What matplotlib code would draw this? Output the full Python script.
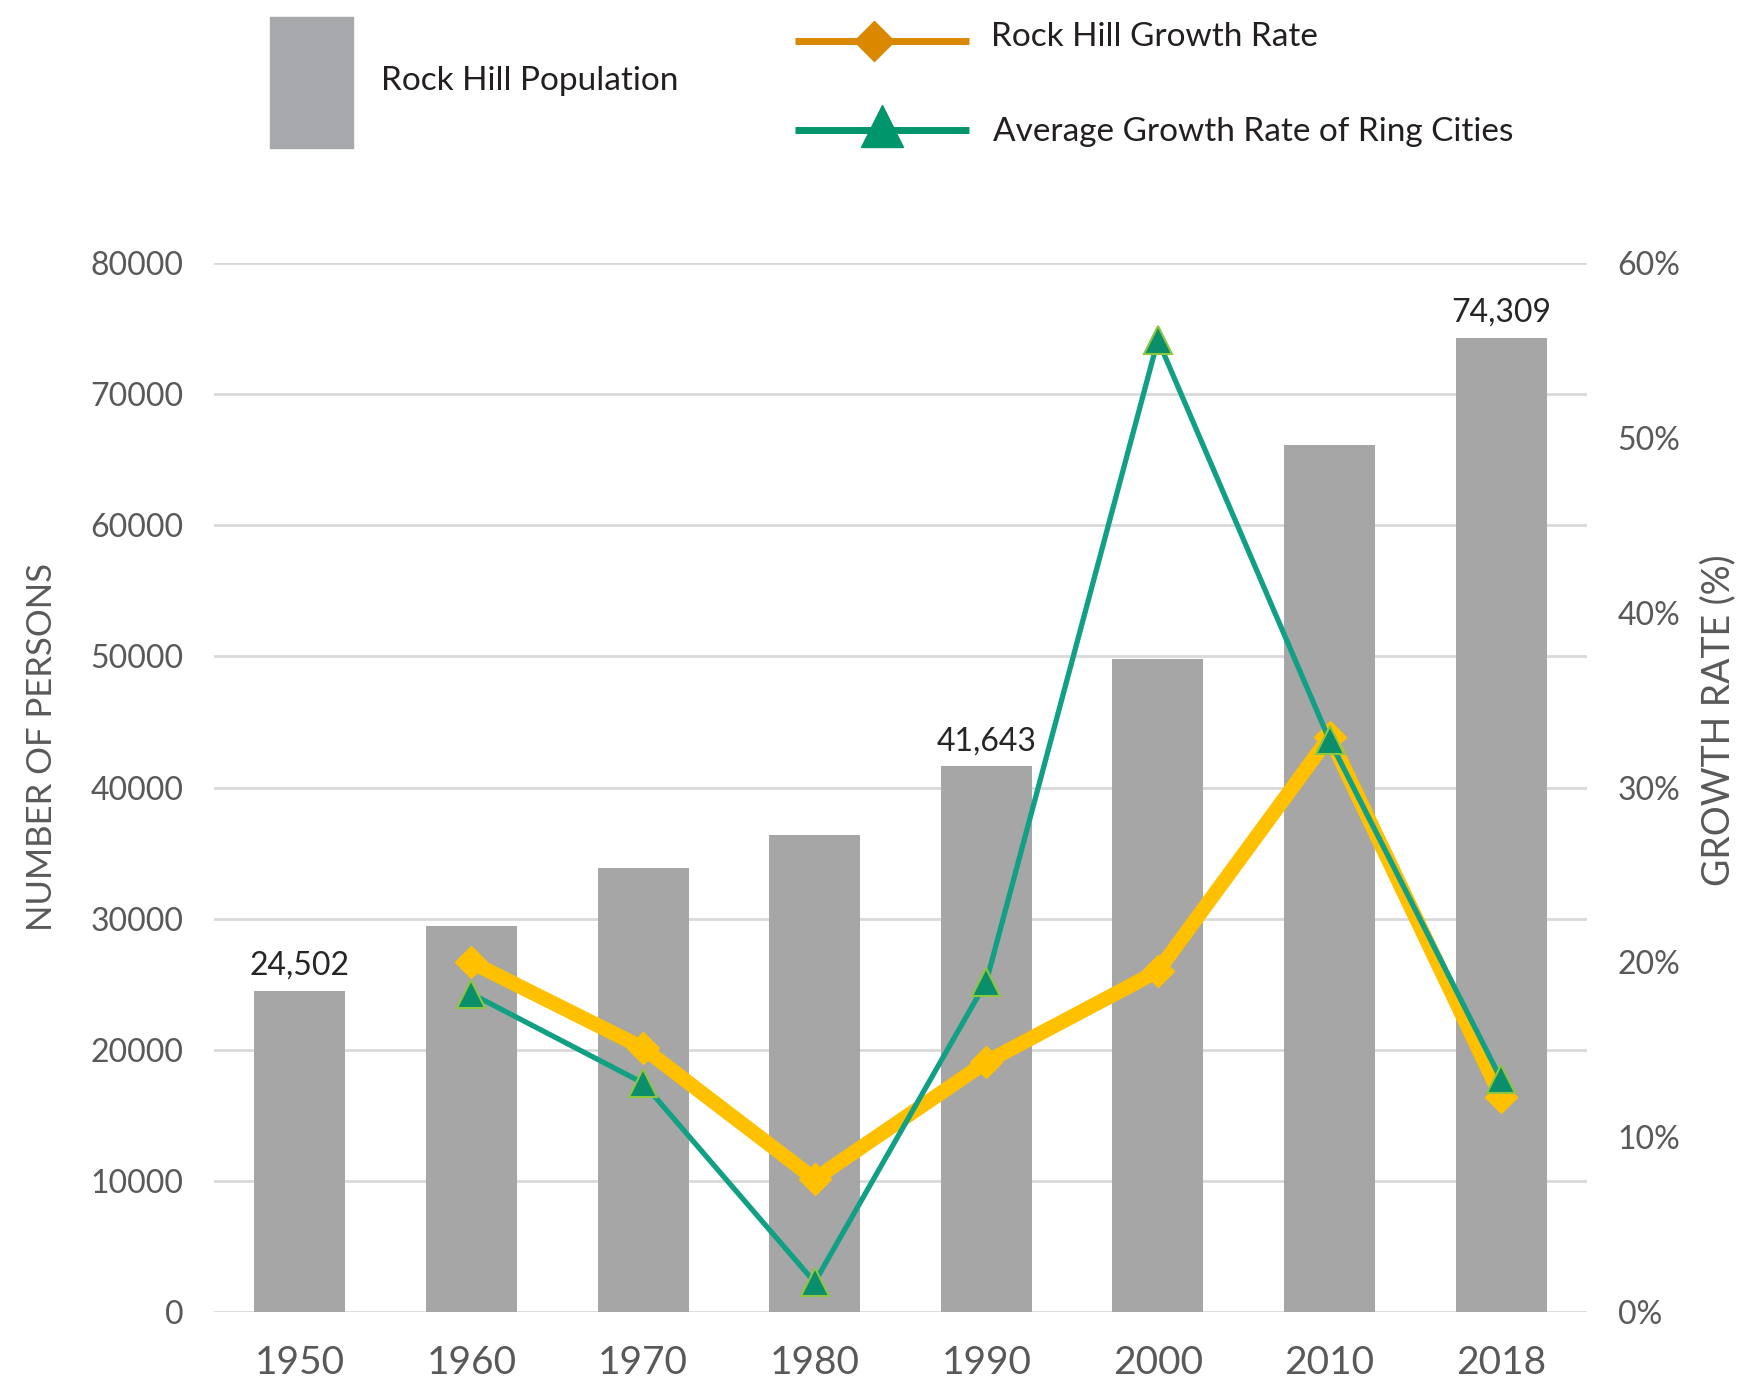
import matplotlib
matplotlib.use("Agg")
import matplotlib.pyplot as plt
from matplotlib.patches import Rectangle
import numpy as np

plt.rcParams["font.family"] = ["Lato", "DejaVu Sans"]

# ── data ────────────────────────────────────────────────────────────────
years = ["1950", "1960", "1970", "1980", "1990", "2000", "2010", "2018"]
population = [24502, 29404, 33846, 36400, 41643, 49765, 66154, 74309]
rock_hill_growth = [None, 20.0, 15.1, 7.6, 14.3, 19.5, 32.9, 12.3]
ring_growth = [None, 18.2, 13.1, 1.7, 18.9, 55.6, 32.7, 13.3]
labelled = {0: "24,502", 4: "41,643", 7: "74,309"}

BAR = "#A6A6A6"
YELLOW = "#FFC000"
GREEN_LINE = "#12A084"
GREEN_FACE = "#0B8E6C"
GREEN_EDGE = "#8DC63F"
GRID = "#D9D9D9"
TICK = "#595959"
DARK = "#231F20"

W, H = 1740, 1395
fig = plt.figure(figsize=(W / 100, H / 100), dpi=100)
fig.patch.set_facecolor("white")

ax = fig.add_axes([214 / W, 1 - 1312 / H, (1587 - 214) / W, (1312 - 263) / H])
x = np.arange(len(years))

ax.bar(x, population, width=0.53, color=BAR, zorder=2)
ax.set_xlim(-0.5, len(years) - 0.5)
ax.set_ylim(0, 80000)
ax.set_yticks(np.arange(0, 80001, 10000))
ax.set_yticklabels([str(v) for v in range(0, 80001, 10000)])
ax.set_xticks(x)
ax.set_xticklabels(years)
ax.yaxis.grid(True, color=GRID, linewidth=2, zorder=0)
ax.set_axisbelow(True)
for s in ax.spines.values():
    s.set_visible(False)
ax.tick_params(axis="y", length=0, pad=22, labelsize=23, labelcolor=TICK)
ax.tick_params(axis="x", length=0, pad=24, labelsize=28, labelcolor=TICK)

for i, txt in labelled.items():
    ax.annotate(txt, xy=(x[i], population[i]), xytext=(0, 7),
                textcoords="offset points", ha="center", va="bottom",
                fontsize=23, color="#262626")

# ── growth rate axis ──────────────────────────────────────────────────────
ax2 = ax.twinx()
ax2.set_ylim(0, 60)
ax2.set_yticks(np.arange(0, 61, 10))
ax2.set_yticklabels([f"{v}%" for v in range(0, 61, 10)])
for s in ax2.spines.values():
    s.set_visible(False)
ax2.tick_params(axis="y", length=0, pad=22, labelsize=23, labelcolor=TICK)

xl = x[1:]
ax2.plot(xl, rock_hill_growth[1:], color=YELLOW, linewidth=10.5, marker="D",
         markersize=16, markerfacecolor=YELLOW, markeredgecolor=YELLOW,
         solid_joinstyle="miter", zorder=3)
ax2.plot(xl, ring_growth[1:], color=GREEN_LINE, linewidth=3.8, marker="^",
         markersize=20, markerfacecolor=GREEN_FACE, markeredgecolor=GREEN_EDGE,
         markeredgewidth=1.5, zorder=4)

fig.text(42 / W, 1 - 747 / H, "NUMBER OF PERSONS", rotation=90, ha="center",
         va="center", fontsize=25, color=TICK)
fig.text(1718 / W, 1 - 720 / H, "GROWTH RATE (%)", rotation=90, ha="center",
         va="center", fontsize=27, color=TICK)

# ── legend, drawn in pixel space over the figure ────────────────────────
lg = fig.add_axes([0, 0, 1, 1], zorder=5)
lg.set_xlim(0, W)
lg.set_ylim(H, 0)
lg.axis("off")
lg.add_patch(Rectangle((270, 17), 83, 131, color="#A7A8AB"))
lg.text(381, 81, "Rock Hill Population", ha="left", va="center",
        fontsize=24, color=DARK)
lg.plot([795, 969], [41, 41], color="#D98800", linewidth=5,
        solid_capstyle="butt")
lg.plot([874], [41], marker="D", markersize=20, color="#D98800")
lg.text(991, 37, "Rock Hill Growth Rate", ha="left", va="center",
        fontsize=24, color=DARK)
lg.plot([795, 969], [130, 130], color="#00956A", linewidth=5,
        solid_capstyle="butt")
lg.plot([882], [126], marker="^", markersize=30, color="#00956A")
lg.text(993, 132, "Average Growth Rate of Ring Cities", ha="left",
        va="center", fontsize=24, color=DARK)

fig.savefig("out.png", dpi=100, facecolor="white")
